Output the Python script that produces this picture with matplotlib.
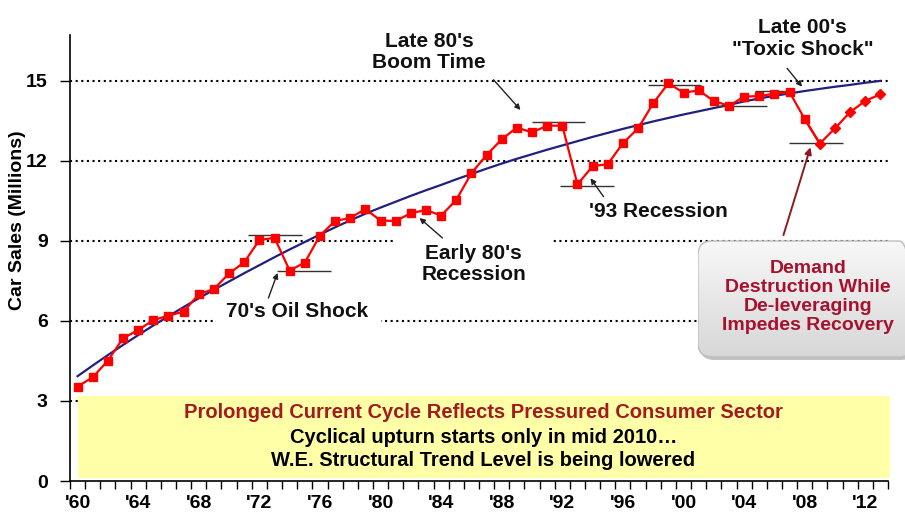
import matplotlib
matplotlib.use('Agg')
import matplotlib.pyplot as plt
import numpy as np
from matplotlib.patches import FancyBboxPatch, Rectangle

plt.rcParams['font.family'] = ['Liberation Sans', 'DejaVu Sans']
plt.rcParams['font.weight'] = 'bold'

# --- data ---
years = list(range(1960, 2014))
car_sales = [3.54, 3.89, 4.51, 5.35, 5.66, 6.03, 6.20, 6.35, 7.00, 7.20,
             7.78, 8.20, 9.03, 9.12, 7.89, 8.19, 9.20, 9.75, 9.86, 10.20,
             9.76, 9.75, 10.04, 10.16, 9.95, 10.54, 11.54, 12.22, 12.81, 13.25,
             13.07, 13.32, 13.32, 11.12, 11.80, 11.88, 12.66, 13.22, 14.16, 14.91,
             14.56, 14.64, 14.25, 14.06, 14.41, 14.43, 14.52, 14.58, 13.57, 12.65,
             13.22, 13.83, 14.25, 14.50]
trend = [3.93, 4.33, 4.72, 5.10, 5.47, 5.83, 6.18, 6.52, 6.85, 7.17,
         7.48, 7.79, 8.09, 8.39, 8.68, 8.96, 9.24, 9.51, 9.77, 10.02,
         10.25, 10.47, 10.69, 10.90, 11.10, 11.31, 11.51, 11.71, 11.90, 12.08,
         12.25, 12.42, 12.58, 12.74, 12.90, 13.05, 13.20, 13.34, 13.48, 13.61,
         13.74, 13.86, 13.98, 14.10, 14.23, 14.34, 14.44, 14.53, 14.62, 14.70,
         14.78, 14.85, 14.93, 15.00]
first_forecast = 2009
y_ticks = [0, 3, 6, 9, 12, 15]

x = np.arange(len(years))
n_act = years.index(first_forecast)

fig = plt.figure(figsize=(9.05, 5.14), dpi=100)
ax = fig.add_axes([70 / 905, 33 / 514, 818 / 905, 446 / 514])

# dotted grid
for lvl in y_ticks[1:]:
    ax.axhline(lvl, color='black', lw=1.5, ls=(0, (1, 1.7)), zorder=0)

# yellow comment box
ax.add_patch(Rectangle((0, 0.11), 53.66, 3.08, fc='#FFFFA8', ec='none',
                       zorder=1, clip_on=False))
ax.text(26.8, 2.55, 'Prolonged Current Cycle Reflects Pressured Consumer Sector',
        ha='center', va='center', fontsize=14.5, color='#A31B1F', zorder=2)
ax.text(26.8, 1.62, 'Cyclical upturn starts only in mid 2010\u2026',
        ha='center', va='center', fontsize=14.5, color='black', zorder=2)
ax.text(26.8, 0.76, 'W.E. Structural Trend Level is being lowered',
        ha='center', va='center', fontsize=14.5, color='black', zorder=2)

# lines
ax.plot(x, trend, color='#202080', lw=1.6, zorder=3)
ax.plot(x[:n_act + 1], car_sales[:n_act + 1], color='#FF0000', lw=1.6, zorder=4)
ax.plot(x[:n_act], car_sales[:n_act], ls='none', marker='s', ms=6.2,
        color='#FF0000', zorder=5)
ax.plot(x[n_act - 1:], car_sales[n_act - 1:], color='#FF0000', lw=1.6, zorder=4)
ax.plot(x[n_act:], car_sales[n_act:], ls='none', marker='D', ms=5.5,
        color='#FF0000', zorder=5)

# peak / trough levels
levels = [(9.22, 11.22, 14.83), (7.87, 13.18, 16.75), (13.44, 29.97, 33.53),
          (11.07, 31.88, 35.4), (14.85, 37.64, 41.17), (14.07, 42.22, 45.52),
          (14.62, 44.75, 47.28), (12.66, 46.95, 50.54)]
for yv, x0, x1 in levels:
    ax.hlines(yv, x0, x1, color='#333333', lw=1.0, zorder=3.5)

# annotations
lab = dict(ha='center', va='center', fontsize=15, color='#111111')
ax.text(23.2, 16.07, "Late 80's\nBoom Time", linespacing=1.15, clip_on=False, **lab)
ax.text(47.85, 16.59, 'Late 00\'s\n"Toxic Shock"', linespacing=1.15, clip_on=False, **lab)
ax.text(38.35, 10.09, "'93 Recession", **lab)
ax.text(26.14, 8.14, "Early 80's\nRecession", linespacing=1.15, zorder=1,
        bbox=dict(boxstyle='square,pad=1.25', fc='white', ec='none'), **lab)
ax.text(14.52, 6.37, "70's Oil Shock", zorder=1,
        bbox=dict(boxstyle='square,pad=0.6', fc='white', ec='none'), **lab)

arrows = [((12.6, 6.86), (13.2, 7.8)), ((24.09, 9.11), (22.57, 9.86)),
          ((27.46, 15.04), (29.24, 13.91)), ((34.72, 10.66), (33.86, 11.35)),
          ((46.84, 15.47), (47.83, 14.78))]
for tail, head in arrows:
    ax.annotate('', xy=head, xytext=tail, zorder=6,
                arrowprops=dict(arrowstyle='-|>', color='#222222', lw=1.0,
                                mutation_scale=8, shrinkA=0, shrinkB=0))
ax.annotate('', xy=(48.38, 12.51), xytext=(46.6, 9.22), zorder=6,
            arrowprops=dict(arrowstyle='-|>', color='#8B1A22', lw=1.4,
                            mutation_scale=10, shrinkA=0, shrinkB=0))

# axes styling
ax.set_xlim(-0.5, 53.5)
ax.set_ylim(0, 16.72)
ax.set_yticks(y_ticks)
ax.set_xticks(x[::4])
ax.set_xticklabels(["'" + str(y)[2:] for y in years[::4]])
ax.set_xticks(np.arange(-0.5, len(years), 1), minor=True)
ax.tick_params(axis='x', which='major', length=0, pad=10, labelsize=14)
ax.tick_params(axis='x', which='minor', length=6, width=1)
ax.tick_params(axis='y', length=7, width=1, pad=9, labelsize=14)
for s in ['top', 'right']:
    ax.spines[s].set_visible(False)
for s in ['left', 'bottom']:
    ax.spines[s].set_linewidth(1.2)

fig.text(17 / 905, 1 - 220 / 514, 'Car Sales (Millions)', rotation=90,
         ha='center', va='center', fontsize=14)

# rounded grey call-out box (extends past the right edge)
bax = fig.add_axes([698 / 905, 1 - 360 / 514, 217 / 905, 120 / 514])
bax.set_xlim(0, 217)
bax.set_ylim(0, 120)
bax.axis('off')
shadow = FancyBboxPatch((2, 0), 215, 116, boxstyle='round,pad=0,rounding_size=14',
                        fc='#9A9A9A', ec='none', alpha=0.6)
bax.add_patch(shadow)
box = FancyBboxPatch((0, 3), 215, 116, boxstyle='round,pad=0,rounding_size=14',
                     fc='none', ec='#BDBDBD', lw=1.0, zorder=3)
bax.add_patch(box)
grad = np.linspace(0.97, 0.84, 100)[:, None] * np.ones((100, 2))
img = bax.imshow(grad, cmap='gray', vmin=0, vmax=1, extent=(0, 215, 3, 119),
                 aspect='auto', origin='upper', zorder=2)
clip = FancyBboxPatch((0, 3), 215, 116, boxstyle='round,pad=0,rounding_size=14',
                      fc='none', ec='none', transform=bax.transData)
img.set_clip_path(clip)
bax.text(110, 63, 'Demand\nDestruction While\nDe-leveraging\nImpedes Recovery',
         ha='center', va='center', fontsize=14, color='#A8112E',
         linespacing=1.15, zorder=4)

fig.savefig('out.png', dpi=100)
